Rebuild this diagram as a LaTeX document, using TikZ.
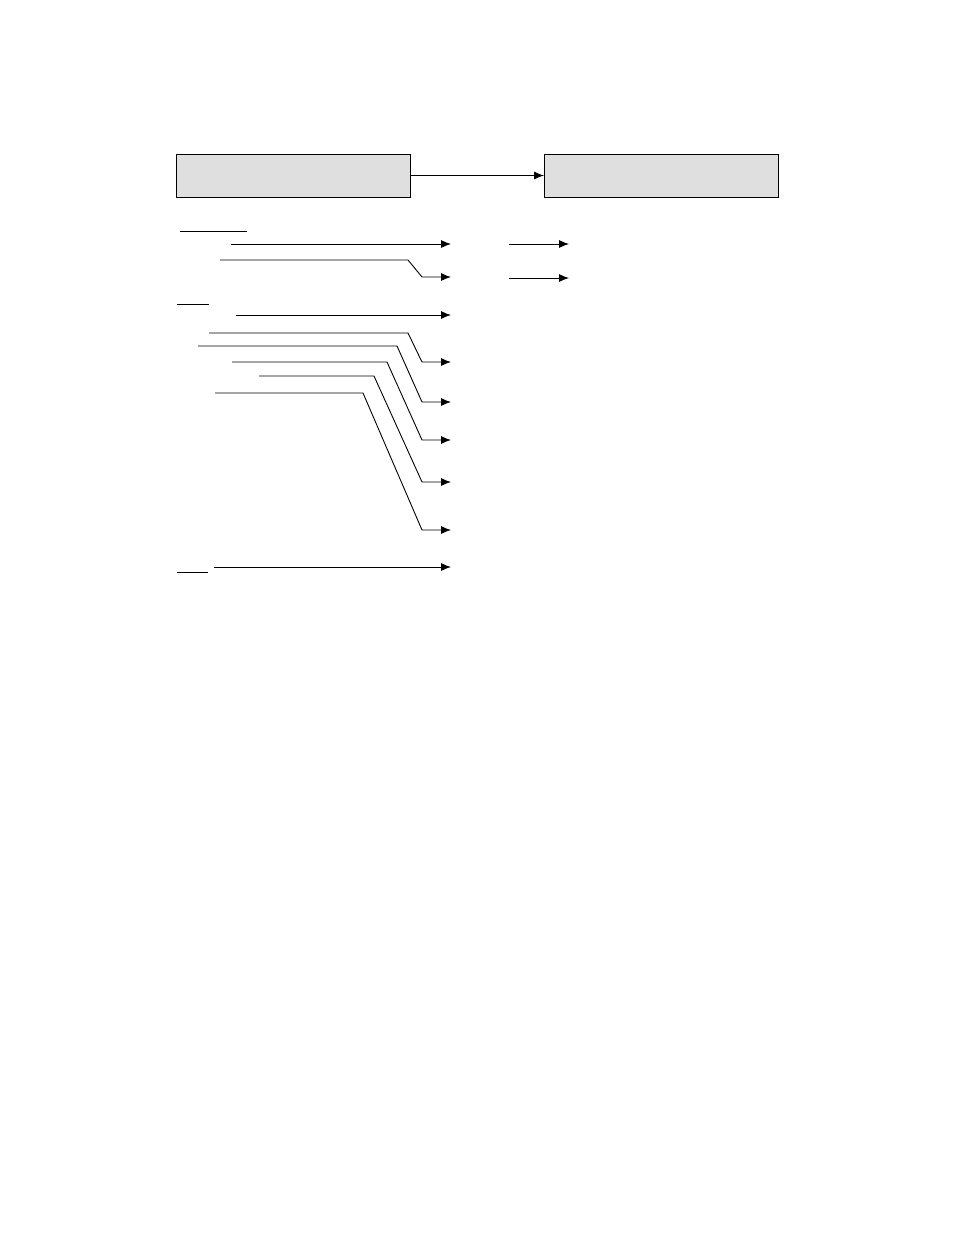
\documentclass[tikz,border=0pt]{standalone}
\usepackage{xcolor}
\usepackage{tikz}
\usetikzlibrary{arrows.meta}
\definecolor{boxgray}{HTML}{DFDFDF}

\begin{document}
\begin{tikzpicture}[x=1pt,y=-1pt,line width=0.9pt,
    box/.style={draw, fill=boxgray, minimum width=234pt, minimum height=43pt, inner sep=0pt},
    arr/.style={-{Latex[length=10pt,width=8pt]}}]
        \useasboundingbox (0,0) rectangle (954,1235);

        \node[box] (src) at (293,175.5) {};
        \node[box] (dst) at (661.5,175.5) {};
        \draw[arr] (src) -- (dst);

        % short rules on the left
        \draw (180,231) -- (247,231);
        \draw (177,304) -- (209,304);
        \draw (177,572) -- (208,572);

        % straight arrows
        \foreach \n/\xs/\y in {one/231/244, three/236/315, nine/214/567} {
            \coordinate (\n-in) at (\xs,\y);
            \coordinate (\n-out) at (451,\y);
            \draw[arr] (\n-in) -- (\n-out);
        }

        % arrows that drop down to their row
        \foreach \n/\xs/\ys/\xb/\ye in {two/220/260/408/277, four/209/333/408/362, five/198/346/397/402, six/232/362/387/440, seven/259/376/374/482, eight/215/393/363/530} {
            \coordinate (\n-in) at (\xs,\ys);
            \coordinate (\n-out) at (451,\ye);
            \draw[arr] (\n-in) -- (\xb,\ys) -- (422,\ye) -- (\n-out);
        }

        % arrows on the right
        \foreach \n/\y in {r1/244, r2/278} {
            \coordinate (\n-in) at (509,\y);
            \coordinate (\n-out) at (569,\y);
            \draw[arr] (\n-in) -- (\n-out);
        }
\end{tikzpicture}
\end{document}
